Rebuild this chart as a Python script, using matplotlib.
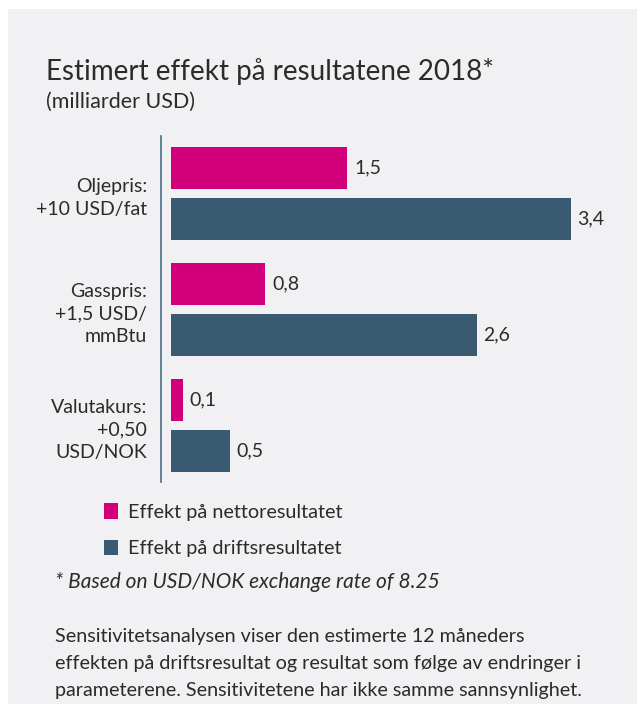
import matplotlib.pyplot as plt
from matplotlib.patches import Rectangle

# data
categories = ['Oljepris:\n+10 USD/fat', 'Gasspris:\n+1,5 USD/\nmmBtu', 'Valutakurs:\n+0,50\nUSD/NOK']
netto = [1.5, 0.8, 0.1]
drift = [3.4, 2.6, 0.5]
netto_labels = ['1,5', '0,8', '0,1']
drift_labels = ['3,4', '2,6', '0,5']
series_names = ['Effekt på nettoresultatet', 'Effekt på driftsresultatet']

PINK = '#d1007a'
BLUE = '#395a71'
BG = '#f1f1f3'
TXT = '#2b2b2b'

plt.rcParams['font.family'] = ['Lato', 'DejaVu Sans']

W, H = 637, 704
fig = plt.figure(figsize=(W / 100, H / 100), dpi=100)
fig.patch.set_facecolor('white')
fig.patches.append(Rectangle((8 / W, 0), 1, 1 - 9 / H, transform=fig.transFigure,
                             facecolor=BG, edgecolor='none', zorder=-10))

def fx(px):
    return px / W

def fy(py):
    return 1 - py / H

fig.text(fx(46), fy(80), 'Estimert effekt på resultatene 2018*', fontsize=20,
         color=TXT, va='baseline')
fig.text(fx(46), fy(108), '(milliarder USD)', fontsize=15.5, color=TXT, va='baseline')

ax_left, ax_right, ax_top, ax_bot = 161, 625, 136, 482
ax = fig.add_axes([fx(ax_left), fy(ax_bot), fx(ax_right - ax_left), (ax_bot - ax_top) / H])
ax.set_facecolor('none')

unit = 117.5  # px per value unit
ax.set_xlim(-10 / unit, (ax_right - ax_left - 10) / unit)
gstep = 116.0
ax.set_ylim(2 + (ax_bot - 425.5) / gstep, -(193.5 - ax_top) / gstep)

ypos = range(len(categories))
h = 0.36
off = 0.22
yn = [y - off for y in ypos]
yd = [y + off for y in ypos]
ax.barh(yn, netto, height=h, color=PINK, label=series_names[0])
ax.barh(yd, drift, height=h, color=BLUE, label=series_names[1])

for y, v, s in zip(yn, netto, netto_labels):
    ax.annotate(s, (v, y), xytext=(5, 0), textcoords='offset points',
                va='center', ha='left', fontsize=14, color=TXT)
for y, v, s in zip(yd, drift, drift_labels):
    ax.annotate(s, (v, y), xytext=(5, 0), textcoords='offset points',
                va='center', ha='left', fontsize=14, color=TXT)

ax.set_yticks(list(ypos))
ax.set_yticklabels(categories, fontsize=14, color=TXT, linespacing=1.4)
ax.tick_params(axis='y', length=0, pad=10)
ax.set_xticks([])
for s in ['top', 'right', 'bottom']:
    ax.spines[s].set_visible(False)
ax.spines['left'].set_color('#4d6f86')
ax.spines['left'].set_linewidth(1.2)

fig.legend(loc='upper left', bbox_to_anchor=(fx(86), fy(485)), frameon=False,
           fontsize=14.3, handlelength=0.7, handleheight=0.85, handletextpad=0.5,
           labelspacing=0.95, labelcolor=TXT)

fig.text(fx(55), fy(588), '* Based on USD/NOK exchange rate of 8.25', fontsize=15,
         style='italic', color=TXT, va='baseline')
para = ['Sensitivitetsanalysen viser den estimerte 12 måneders',
        'effekten på driftsresultat og resultat som følge av endringer i',
        'parameterene. Sensitivitetene har ikke samme sannsynlighet.']
for i, line in enumerate(para):
    fig.text(fx(55), fy(642 + i * 27), line, fontsize=14.2, color=TXT, va='baseline')

fig.savefig('out.png', dpi=100)
